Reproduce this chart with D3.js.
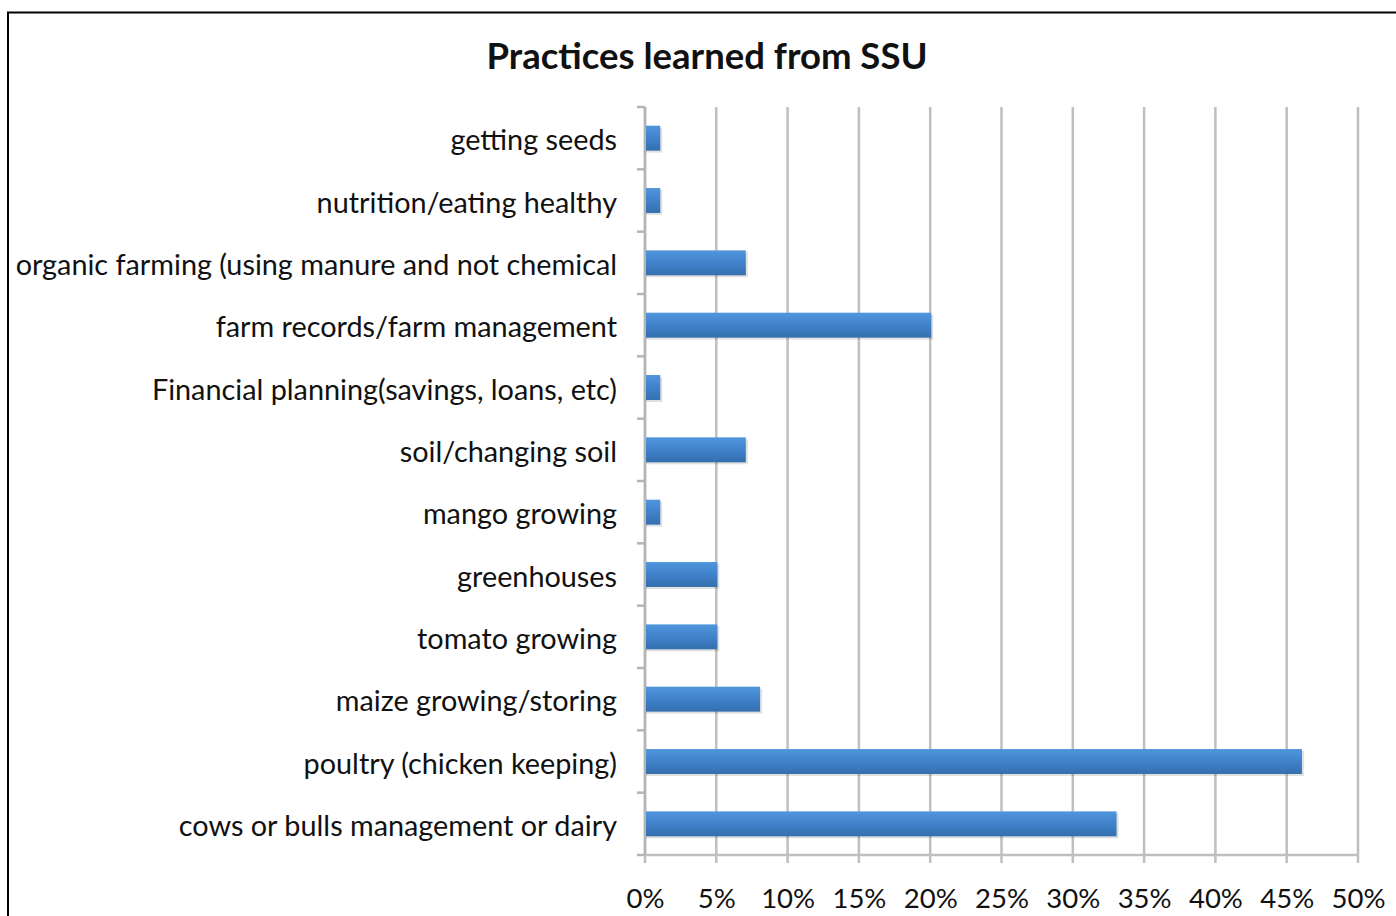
<!DOCTYPE html>
<html>
<head>
<meta charset="utf-8">
<script src="https://cdn.jsdelivr.net/npm/d3@7"></script>
<style>
  body { margin: 0; background: #fff; }
  .text { font-family: Lato, "Open Sans", sans-serif; fill: #111; }
</style>
</head>
<body>
<div id="graph"></div>
<script>
const categories = [
  "getting seeds",
  "nutrition/eating healthy",
  "organic farming (using manure and not chemical",
  "farm records/farm management",
  "Financial planning(savings, loans, etc)",
  "soil/changing soil",
  "mango growing",
  "greenhouses",
  "tomato growing",
  "maize growing/storing",
  "poultry (chicken keeping)",
  "cows or bulls management or dairy"
];
const values = [1, 1, 7, 20, 1, 7, 1, 5, 5, 8, 46, 33];
const ticks = [0, 5, 10, 15, 20, 25, 30, 35, 40, 45, 50];
const title = "Practices learned from SSU";

function graph() {
  let w = 1396;
  let h = 916;
  let left = 645, right = 1358, top = 107, bottom = 855;

  const svg = d3.select("#graph")
                .append("svg")
                .attr("width", w)
                .attr("height", h);

  // gradient for the bars
  const grad = svg.append("defs")
                  .append("linearGradient")
                  .attr("id", "bar")
                  .attr("x1", 0).attr("y1", 0)
                  .attr("x2", 0).attr("y2", 1);
  grad.append("stop").attr("offset", "0%").attr("stop-color", "#5096dc");
  grad.append("stop").attr("offset", "55%").attr("stop-color", "#3f80c8");
  grad.append("stop").attr("offset", "100%").attr("stop-color", "#346fae");

  // outer frame
  svg.append("rect")
     .attr("x", 8)
     .attr("y", 12.5)
     .attr("width", w)
     .attr("height", h)
     .attr("fill", "none")
     .attr("stroke", "#000")
     .attr("stroke-width", 2);

  const xScale = d3.scaleLinear()
                   .domain([0, 50])
                   .range([left, right]);

  const yScale = d3.scaleBand()
                   .domain(categories)
                   .range([top, bottom])
                   .paddingInner(0.6)
                   .paddingOuter(0.3);

  svg.append("text")
     .attr("class", "text")
     .attr("x", 707)
     .attr("y", 69)
     .attr("text-anchor", "middle")
     .style("font-size", "36.5px")
     .style("font-weight", "bold")
     .text(title);

  // vertical gridlines, running down past the axis as ticks
  svg.append("g")
     .selectAll("line")
     .data(ticks)
     .enter()
     .append("line")
     .attr("x1", d => xScale(d))
     .attr("x2", d => xScale(d))
     .attr("y1", top)
     .attr("y2", bottom + 8)
     .attr("stroke", "#bfbfbf")
     .attr("stroke-width", 2.5);

  // bottom axis line
  svg.append("line")
     .attr("x1", left)
     .attr("x2", right)
     .attr("y1", bottom)
     .attr("y2", bottom)
     .attr("stroke", "#bfbfbf")
     .attr("stroke-width", 2.5);

  // left axis with ticks at band edges
  const edges = categories.map(c => yScale(c) - yScale.step() * yScale.paddingInner() / 2);
  edges.push(bottom);
  svg.append("g")
     .selectAll("line")
     .data(edges)
     .enter()
     .append("line")
     .attr("x1", left - 8)
     .attr("x2", left)
     .attr("y1", d => d)
     .attr("y2", d => d)
     .attr("stroke", "#b5b5b5")
     .attr("stroke-width", 2.5);

  svg.append("line")
     .attr("x1", left)
     .attr("x2", left)
     .attr("y1", top)
     .attr("y2", bottom)
     .attr("stroke", "#b5b5b5")
     .attr("stroke-width", 2.5);

  const xAxis = d3.axisBottom()
                  .scale(xScale)
                  .tickValues(ticks)
                  .tickSize(0)
                  .tickPadding(0)
                  .tickFormat(d => d + "%");

  svg.append("g")
     .attr("transform", `translate(0, ${bottom + 33})`)
     .call(xAxis)
     .call(g => g.select(".domain").remove())
     .selectAll("text")
     .attr("class", "text")
     .attr("fill", "#111")
     .style("font-size", "27.5px");

  // shadow under bars
  svg.append("g")
     .selectAll("rect")
     .data(values)
     .enter()
     .append("rect")
     .attr("x", left + 1)
     .attr("y", (d, i) => yScale(categories[i]) + 2)
     .attr("width", d => xScale(d) - left + 2)
     .attr("height", yScale.bandwidth())
     .attr("fill", "#000")
     .attr("opacity", 0.12);

  svg.append("g")
     .selectAll("rect")
     .data(values)
     .enter()
     .append("rect")
     .attr("x", left + 1)
     .attr("y", (d, i) => yScale(categories[i]))
     .attr("width", d => xScale(d) - left)
     .attr("height", yScale.bandwidth())
     .attr("fill", "url(#bar)");

  svg.append("g")
     .selectAll("text")
     .data(categories)
     .enter()
     .append("text")
     .attr("class", "text")
     .attr("x", 617)
     .attr("y", d => yScale(d) + yScale.bandwidth() / 2 + 5)
     .attr("text-anchor", "end")
     .attr("dominant-baseline", "middle")
     .style("font-size", "28.8px")
     .text(d => d);
}

graph();
</script>
</body>
</html>
